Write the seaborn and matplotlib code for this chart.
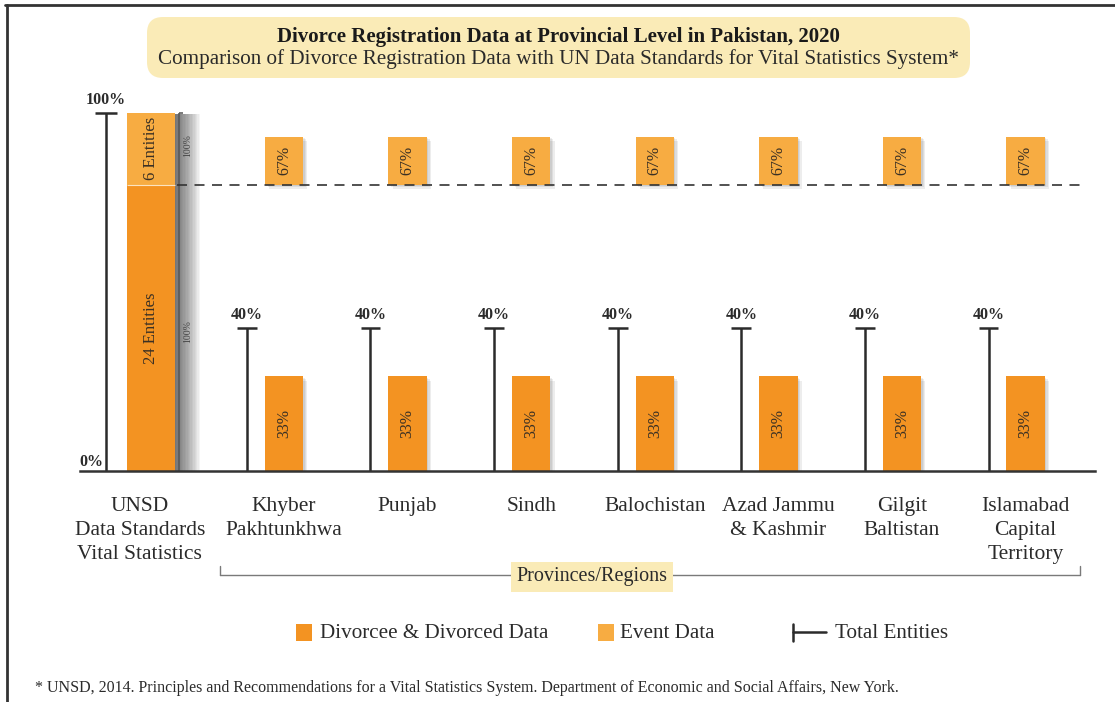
import numpy as np
import pandas as pd
import matplotlib
matplotlib.use("Agg")
import matplotlib.pyplot as plt
import matplotlib.patheffects as pe
from matplotlib.patches import FancyBboxPatch, Rectangle
from matplotlib.lines import Line2D
import seaborn as sns

# data
regions = ["Khyber\nPakhtunkhwa", "Punjab", "Sindh", "Balochistan",
           "Azad Jammu\n& Kashmir", "Gilgit\nBaltistan", "Islamabad\nCapital\nTerritory"]
divorcee_pct = [33, 33, 33, 33, 33, 33, 33]   # share of the 24 divorcee/divorced entities
event_pct = [67, 67, 67, 67, 67, 67, 67]      # share of the 6 event entities
total_pct = [40, 40, 40, 40, 40, 40, 40]      # share of all 30 entities
unsd_label = "UNSD\nData Standards\nVital Statistics"
unsd_divorcee_entities = 24
unsd_event_entities = 6

ORANGE = "#F39322"
LIGHT = "#F7AC42"
YELLOW = "#FAEBB7"
INK = "#2b2b2b"

sns.set_style("white")
plt.rcParams["font.family"] = ["Liberation Serif", "DejaVu Serif"]

W, H = 1115, 702
fig = plt.figure(figsize=(W / 100, H / 100), dpi=100)

def fx(px):
    return px / W

def fy(py):
    return 1 - py / H

# axes: baseline at y=471px, 100% at y=113px
ax = fig.add_axes([fx(80), fy(471), (1095 - 80) / W, (471 - 113) / H])

n_total = unsd_divorcee_entities + unsd_event_entities
div_share = unsd_divorcee_entities / n_total * 100
evt_share = unsd_event_entities / n_total * 100

pos = np.arange(len(regions))
unsd_x = -1.076
df = pd.DataFrame({
    "pos": pos,
    "div_h": np.array(divorcee_pct) / 100 * div_share,
    "evt_h": np.array(event_pct) / 100 * evt_share,
})
df_u = pd.DataFrame({"pos": [unsd_x], "div_h": [div_share], "evt_h": [evt_share]})

common = dict(native_scale=True, saturation=1, linewidth=0, errorbar=None, ax=ax)
sns.barplot(data=df_u, x="pos", y="div_h", width=0.39, color=ORANGE, **common)
sns.barplot(data=df_u, x="pos", y="evt_h", width=0.39, color=LIGHT, bottom=div_share, **common)
n_unsd = len(ax.patches)
sns.barplot(data=df, x="pos", y="div_h", width=0.31, color=ORANGE, **common)
sns.barplot(data=df, x="pos", y="evt_h", width=0.31, color=LIGHT, bottom=div_share, **common)

# soft shadows
for i, p in enumerate(ax.patches):
    if i < n_unsd:
        effs = [pe.SimplePatchShadow(offset=(k, -1), shadow_rgbFace="black", alpha=0.04)
                for k in range(1, 19)]
    else:
        effs = [pe.SimplePatchShadow(offset=(k, -k), shadow_rgbFace="black", alpha=0.07)
                for k in (1, 2, 3)]
    p.set_path_effects(effs + [pe.Normal()])

ax.hlines(div_share, unsd_x - 0.195, unsd_x + 0.195, color="#fbe3c0", lw=0.8, zorder=3)

# text inside bars
ax.text(unsd_x, div_share / 2, f"{unsd_divorcee_entities} Entities", rotation=90,
        ha="center", va="center", fontsize=12, color="#3a3024")
ax.text(unsd_x, div_share + evt_share / 2, f"{unsd_event_entities} Entities", rotation=90,
        ha="center", va="center", fontsize=12, color="#3a3024")
for x, d, e, dh, eh in zip(pos, divorcee_pct, event_pct, df["div_h"], df["evt_h"]):
    ax.text(x, dh / 2, f"{d}%", rotation=90, ha="center", va="center",
            fontsize=11.5, color="#3a3024")
    ax.text(x, div_share + eh / 2, f"{e}%", rotation=90, ha="center", va="center",
            fontsize=11.5, color="#3a3024")

# total entities markers
tx = pos - 0.30
ax.vlines(tx, 0, total_pct, color=INK, lw=1.8)
ax.hlines(total_pct, tx - 0.08, tx + 0.08, color=INK, lw=1.8)
for x, t in zip(tx, total_pct):
    ax.text(x, t + 1.3, f"{t}%", ha="center", va="bottom", fontsize=11.5,
            fontweight="bold", color=INK)

lx = -1.44
ax.vlines(lx, 0, 100, color=INK, lw=1.8, clip_on=False)
ax.hlines(100, lx - 0.089, lx + 0.089, color=INK, lw=1.8, clip_on=False)
ax.text(lx, 101.4, "100%", ha="center", va="bottom", fontsize=11.5, fontweight="bold", color=INK)
ax.text(-1.56, 2.5, "0%", ha="center", va="center", fontsize=11.5, fontweight="bold", color=INK)

# grey 100% brackets next to the UNSD bar
gx = -0.85
ax.vlines(gx, 0, 100, color="#555555", lw=1.1, clip_on=False)
ax.hlines(100, gx, gx + 0.035, color="#555555", lw=1.1, clip_on=False)
ax.text(gx + 0.07, div_share + evt_share / 2 + 1, "100%", rotation=90, ha="center",
        va="center", fontsize=7, color="#444444")
ax.text(gx + 0.07, 39, "100%", rotation=90, ha="center", va="center",
        fontsize=7, color="#444444")

ax.hlines(div_share, -0.866, 6.5, color="#333333", lw=1.2, linestyles=(0, (6, 4.5)))

ax.set_xlim(-1.650, 6.561)
ax.set_ylim(0, 100)
ax.set_xticks([unsd_x - 0.09] + list(pos))
ax.set_xticklabels([unsd_label] + regions, fontsize=15.5, color=INK, linespacing=1.36)
ax.tick_params(axis="x", length=0, pad=19)
ax.set_yticks([])
ax.set_xlabel("")
ax.set_ylabel("")
for s in ["top", "left", "right"]:
    ax.spines[s].set_visible(False)
ax.spines["bottom"].set_color("#333333")
ax.spines["bottom"].set_linewidth(1.8)

# title box
box = FancyBboxPatch((147 / 100, (H - 78) / 100), (970 - 147) / 100, 61 / 100,
                     boxstyle="round,pad=0,rounding_size=0.16", transform=fig.dpi_scale_trans,
                     facecolor=YELLOW, edgecolor="none")
fig.add_artist(box)
fig.text(fx(558), fy(37), "Divorce Registration Data at Provincial Level in Pakistan, 2020",
         ha="center", va="center", fontsize=15, fontweight="bold", color="#1a1a1a")
fig.text(fx(558), fy(59), "Comparison of Divorce Registration Data with UN Data Standards for Vital Statistics System*",
         ha="center", va="center", fontsize=15.2, color="#2a2a2a")

# provinces bracket
bc = "#7a7a7a"
fig.add_artist(Line2D([fx(220), fx(1080)], [fy(575), fy(575)], color=bc, lw=1))
fig.add_artist(Line2D([fx(220), fx(220)], [fy(575), fy(566)], color=bc, lw=1))
fig.add_artist(Line2D([fx(1080), fx(1080)], [fy(575), fy(566)], color=bc, lw=1))
fig.text(fx(592), fy(577), "Provinces/Regions", ha="center", va="center", fontsize=14.5,
         color=INK, bbox=dict(boxstyle="square,pad=0.25", facecolor=YELLOW, edgecolor="none"))

# legend
fig.add_artist(Rectangle((fx(296), fy(641)), 16 / W, 17 / H, transform=fig.transFigure,
                         facecolor=ORANGE, edgecolor="none"))
fig.text(fx(320), fy(633), "Divorcee & Divorced Data", ha="left", va="center", fontsize=15.2, color=INK)
fig.add_artist(Rectangle((fx(598), fy(641)), 16 / W, 17 / H, transform=fig.transFigure,
                         facecolor=LIGHT, edgecolor="none"))
fig.text(fx(620), fy(633), "Event Data", ha="left", va="center", fontsize=15.2, color=INK)
fig.add_artist(Line2D([fx(793), fx(793)], [fy(624), fy(641)], color=INK, lw=1.8))
fig.add_artist(Line2D([fx(793), fx(826)], [fy(632), fy(632)], color=INK, lw=1.8))
fig.text(fx(835), fy(633), "Total Entities", ha="left", va="center", fontsize=15.2, color=INK)

# footnote
fig.text(fx(35), fy(688), "* UNSD, 2014. Principles and Recommendations for a Vital Statistics System. "
         "Department of Economic and Social Affairs, New York.",
         ha="left", va="center", fontsize=11.5, color=INK)

# frame
fig.add_artist(Line2D([fx(5), 1], [fy(5), fy(5)], color="#333333", lw=2))
fig.add_artist(Line2D([fx(7), fx(7)], [fy(5), 0], color="#333333", lw=2))

fig.savefig("out.png", dpi=100)
